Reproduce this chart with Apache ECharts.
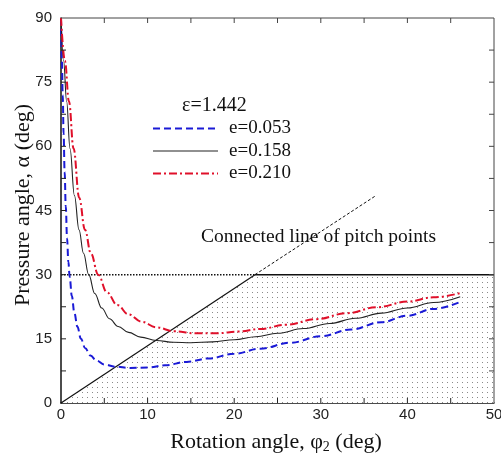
<!DOCTYPE html>
<html>
<head>
<meta charset="utf-8">
<script src="https://cdn.jsdelivr.net/npm/echarts@6/dist/echarts.min.js"></script>
<style>html,body{margin:0;padding:0;background:#fff;}#c{width:501px;height:459px;}</style>
</head>
<body>
<div id="c"></div>
<script>
// ---- data ----
const xTicks = [0, 10, 20, 30, 40, 50];
const yTicks = [0, 15, 30, 45, 60, 75, 90];
const xTickMarks = [5, 10, 15, 20, 25, 30, 35, 40, 45];
const yTickMarks = [7.5, 15, 22.5, 30, 37.5, 45, 52.5, 60, 67.5, 75, 82.5];
const seriesNames = ['e=0.053', 'e=0.158', 'e=0.210'];
const epsilonLabel = 'ε=1.442';
const curveE053 = [[0,90],[0.1,80],[0.2,72],[0.3,63],[0.42,54],[0.55,46],[0.7,38.5],[0.85,33],[1.0,29.5],[1.25,25],[1.55,21],[1.9,17.8],[2.3,15],[2.8,12.8],[3.4,11.1],[4.1,9.9],[5.0,9.0],[6.2,8.5],[8,8.2],[10,8.3],[12,8.8],[14.5,9.6],[17,10.4],[20,11.5],[23,12.7],[26.5,14.1],[30,15.6],[33.5,17.2],[37,18.9],[40,20.4],[43,22.0],[46.3,23.8]];
const curveE158 = [[0,90],[0.3,80],[0.65,70.5],[1.04,59.5],[1.55,48.5],[2.08,40.5],[2.6,35],[3.2,30],[3.9,25.6],[4.7,22.2],[5.6,19.7],[6.6,17.9],[7.8,16.5],[9.2,15.4],[11.0,14.6],[13.0,14.2],[15,14.1],[17.5,14.3],[20,14.8],[22.5,15.5],[25,16.3],[28,17.4],[31,18.6],[34,19.8],[37,21.0],[40,22.2],[43,23.5],[46.1,24.85]];
const curveE210 = [[0,90],[0.45,80],[0.92,70.5],[1.45,59.5],[2.1,48],[2.77,40.5],[3.45,35],[4.3,30],[5.3,25.9],[6.5,22.9],[7.8,20.7],[9.3,19.0],[11,17.7],[13,16.8],[15.5,16.3],[18,16.3],[20.5,16.7],[23,17.3],[26,18.3],[29.5,19.6],[33,21.0],[36.5,22.4],[40,23.7],[43,24.7],[46.3,25.8]];
const pitchLow = [[0,0],[22.4,30]];
const pitchHigh = [[22.4,30],[36.3,48.4]];
const line30Dotted = [[0,30],[22.4,30]];
const line30Solid = [[22.4,30],[50,30]];
const regionBoundary = [[0,0],[22.4,30],[50,30]];
const frameTopRight = [[0,90],[50,90],[50,0]];
const xMin = 0, xMax = 50, yMin = 0, yMax = 90;

const serif = '"Liberation Serif", "Times New Roman", serif';
const sans = '"Liberation Sans", Arial, sans-serif';
const colors = ['#1a1ad6', '#222222', '#e0102a'];
const dashes = [[7, 4], null, [8, 3, 2, 3]];
const widths = [2, 1.1, 2];
const GRID = {left: 61, right: 7, top: 18, bottom: 56};
const TICK_PX = 5;
// tick length expressed in axis units (plot is 433 px wide, 385 px tall)
const tickLenX = TICK_PX * (xMax - xMin) / (501 - GRID.left - GRID.right);
const tickLenY = TICK_PX * (yMax - yMin) / (459 - GRID.top - GRID.bottom);

// dot pattern for the addendum contact region
const pat = document.createElement('canvas');
pat.width = 5; pat.height = 5;
const pctx = pat.getContext('2d');
pctx.fillStyle = '#ffffff'; pctx.fillRect(0,0,5,5);
pctx.fillStyle = '#8a8a8a'; pctx.fillRect(2,2,1,1);

const chart = echarts.init(document.getElementById('c'));

const curveSeries = [curveE053, curveE158, curveE210].map((d, i) => ({
  type: 'line', name: seriesNames[i], data: d, symbol: 'none', smooth: 0.4, smoothMonotone: 'x', z: 4,
  lineStyle: {color: colors[i], width: widths[i], type: dashes[i] || 'solid'}
}));

// inside tick marks on all four sides, as tiny line segments through the axes
const tickSeries = [];
function tickLine(pts, color) {
  tickSeries.push({type: 'line', data: pts, symbol: 'none', silent: true, clip: false, z: 6,
    lineStyle: {color: color, width: 1}});
}
xTickMarks.forEach(v => {
  tickLine([[v, yMin], [v, yMin + tickLenY]], '#222');
  tickLine([[v, yMax], [v, yMax - tickLenY]], '#444');
});
yTickMarks.forEach(v => {
  tickLine([[xMin, v], [xMin + tickLenX, v]], '#222');
  tickLine([[xMax, v], [xMax - tickLenX, v]], '#444');
});

const legendGraphics = [];
seriesNames.forEach((n, i) => {
  const y = 128.5 + i * 22.5;
  legendGraphics.push({type: 'line', shape: {x1: 153, y1: y, x2: 218, y2: y},
    style: {stroke: colors[i], lineWidth: widths[i], lineDash: dashes[i] || null}});
  legendGraphics.push({type: 'text', x: 229, y: y, style: {text: n, font: '19px ' + serif, fill: '#111', verticalAlign: 'middle'}});
});

chart.setOption({
  animation: false,
  grid: {left: GRID.left, right: GRID.right, top: GRID.top, bottom: GRID.bottom, containLabel: false, outerBoundsMode: 'none'},
  xAxis: {type: 'value', min: xMin, max: xMax, interval: 10, position: 'bottom',
     axisLine: {show: true, onZero: false, lineStyle: {color: '#111', width: 1.5}},
     axisTick: {show: false}, splitLine: {show: false},
     axisLabel: {show: true, color: '#222', fontFamily: sans, fontSize: 15, margin: 4,
       formatter: v => xTicks.includes(v) ? String(v) : ''}},
  yAxis: {type: 'value', min: yMin, max: yMax, interval: 15, position: 'left',
     axisLine: {show: true, onZero: false, lineStyle: {color: '#111', width: 1.5}},
     axisTick: {show: false}, splitLine: {show: false},
     axisLabel: {show: true, color: '#222', fontFamily: sans, fontSize: 15, margin: 9,
       formatter: v => yTicks.includes(v) ? String(v) : ''}},
  series: [
    {type: 'line', name: 'region', data: regionBoundary, symbol: 'none', silent: true, z: 1,
     lineStyle: {width: 0, opacity: 0},
     areaStyle: {color: {image: pat, repeat: 'repeat'}, opacity: 1, origin: 'start'}},
    {type: 'line', data: frameTopRight, symbol: 'none', z: 5, clip: false,
     lineStyle: {color: '#444', width: 1}},
    {type: 'line', data: line30Dotted, symbol: 'none', z: 3,
     lineStyle: {color: '#111', width: 1.5, type: [1.5, 1.5]}},
    {type: 'line', data: line30Solid, symbol: 'none', z: 3,
     lineStyle: {color: '#111', width: 1.5}},
    {type: 'line', data: pitchLow, symbol: 'none', z: 3,
     lineStyle: {color: '#111', width: 1.2}},
    {type: 'line', data: pitchHigh, symbol: 'none', z: 3,
     lineStyle: {color: '#111', width: 1, type: [3, 2]}}
  ].concat(curveSeries).concat(tickSeries),
  graphic: [
    {type: 'text', x: 182, y: 106, style: {text: epsilonLabel, font: '20px ' + serif, fill: '#111', verticalAlign: 'middle'}},
    {type: 'text', x: 201, y: 237, style: {text: 'Connected line of pitch points', font: '19.5px ' + serif, fill: '#111', verticalAlign: 'middle'}},
    {type: 'text', x: 252, y: 376, style: {text: 'Addendum contact region', font: '19.5px ' + serif, fill: '#111', verticalAlign: 'middle'}},
    {type: 'text', x: 276, y: 442, style: {
      text: '{a|Rotation angle, φ}{s|2}{a| (deg)}', align: 'center', verticalAlign: 'middle',
      rich: {a: {font: '22px ' + serif, fill: '#111'}, s: {font: '14px ' + serif, fill: '#111', padding: [11,0,0,0]}}}},
    {type: 'text', x: 23, y: 205, rotation: Math.PI/2, style: {
      text: 'Pressure angle, α (deg)', font: '22px ' + serif, fill: '#111', align: 'center', verticalAlign: 'middle'}}
  ].concat(legendGraphics)
});
</script>
</body>
</html>
